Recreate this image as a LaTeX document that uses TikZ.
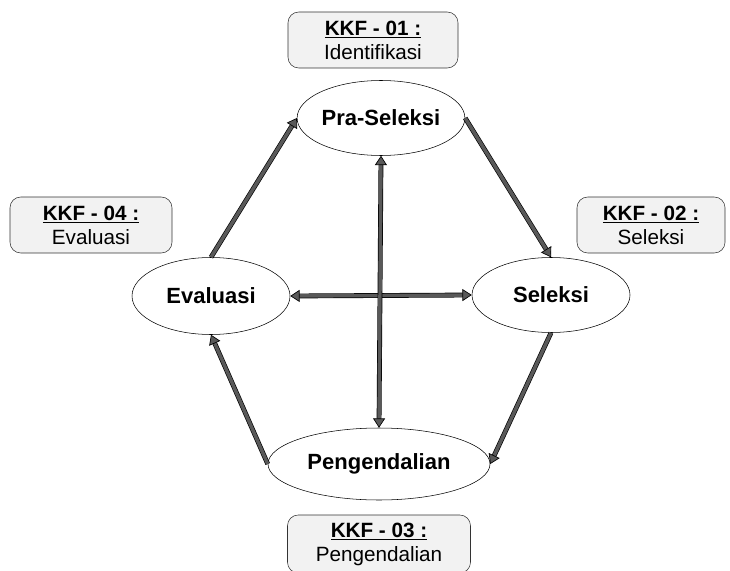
\documentclass[tikz,border=0pt]{standalone}
\usepackage{fontspec}
\setmainfont{Liberation Sans}
\usetikzlibrary{shapes.geometric,arrows.meta}

\tikzset{
  phase/.style={ellipse, draw=black, thin, fill=white, inner sep=0pt,
    minimum width=158*0.75pt, minimum height=75*0.75pt, font=\fontsize{16.5}{18}\selectfont\bfseries},
  kkfbox/.style={draw=black!80, thin, fill=black!5, rounded corners=8pt,
    align=center, inner sep=0pt, minimum height=56*0.75pt},
  flow/.style={draw=black, line width=0.5pt, double=black!65, double distance=2.6pt,
    -{Triangle[length=7pt,width=9pt,fill=black!65]}},
  flowboth/.style={flow, {Triangle[length=7pt,width=9pt,fill=black!65]}-{Triangle[length=7pt,width=9pt,fill=black!65]}}
}

\begin{document}
\begin{tikzpicture}[x=0.75pt, y=-0.75pt, font=\fontsize{15.5}{18}\selectfont]
\useasboundingbox (0,0) rectangle (730,570);
% fase
\node[phase] (pra) at (381,118) {Pra-Seleksi};
\node[phase] (sel) at (551,295) {Seleksi};
\node[phase, minimum height=77*0.75pt] (eval) at (211,296) {Evaluasi};
\node[phase, minimum width=222*0.75pt, minimum height=72*0.75pt] (peng) at (379,464) {Pengendalian};
% keterangan KKF
\node[kkfbox, minimum width=170*0.75pt] (k1) at (373,40) {\underline{\textbf{KKF - 01 :}}\\Identifikasi};
\node[kkfbox, minimum width=148*0.75pt] (k2) at (651,225) {\underline{\textbf{KKF - 02 :}}\\Seleksi};
\node[kkfbox, minimum width=183*0.75pt, minimum height=58*0.75pt] (k3) at (379,544) {\underline{\textbf{KKF - 03 :}}\\Pengendalian};
\node[kkfbox, minimum width=162*0.75pt] (k4) at (91,225) {\underline{\textbf{KKF - 04 :}}\\Evaluasi};
% siklus
\draw[flow] (eval.north) -- (pra.west);
\draw[flow] (pra.east) -- (sel.north);
\draw[flow] (sel.south) -- (peng.east);
\draw[flow] (peng.west) -- (eval.south);
\draw[flowboth] (eval.east) -- (sel.west);
\draw[flowboth] (pra.south) -- (peng.north);
\end{tikzpicture}
\end{document}
